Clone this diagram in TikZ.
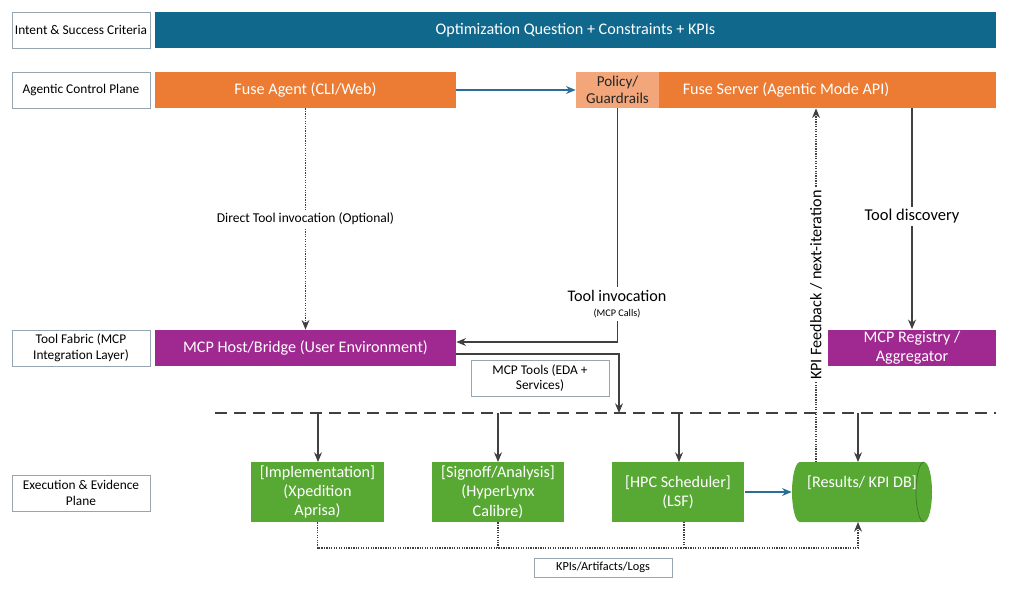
\documentclass[tikz,border=0pt]{standalone}
\usepackage{fontspec}
\setmainfont{Carlito}
\usetikzlibrary{arrows.meta}

\definecolor{intentblue}{RGB}{16,104,140}
\definecolor{ctrlorange}{RGB}{236,124,52}
\definecolor{policyorange}{RGB}{242,166,122}
\definecolor{fabricpurple}{RGB}{160,40,145}
\definecolor{execgreen}{RGB}{88,168,52}
\definecolor{linegray}{RGB}{64,64,64}
\definecolor{flowblue}{RGB}{40,110,150}
\definecolor{lanegray}{RGB}{150,165,175}

\begin{document}
\begin{tikzpicture}[>={Stealth[length=5.5pt,width=4.5pt]}, x=0.02cm, y=-0.02cm,
    lane/.style={draw=lanegray, thin, fill=white, minimum width=2.76cm, minimum height=0.72cm,
                 align=center, inner sep=1pt, font=\fontsize{7.6}{9}\selectfont},
    bar/.style={minimum height=0.72cm, inner sep=1pt, text=white, align=center,
                font=\fontsize{9.2}{11}\selectfont},
    task/.style={fill=execgreen, minimum width=2.66cm, minimum height=1.2cm, inner sep=1pt,
                 text=white, align=center, font=\fontsize{9.2}{11}\selectfont},
    link/.style={linegray, semithick},
    dots/.style={dash pattern=on 0.7pt off 0.7pt},
    lbl/.style={fill=white, inner sep=1.5pt, text=black, align=center}]

    % page frame
    \useasboundingbox (0,0) rectangle (1024,589);

    % lane titles
    \node[lane] (intent) at (81,30) {Intent \& Success Criteria};
    \node[lane] (control) at (81,90) {Agentic Control Plane};
    \node[lane] (fabric) at (81,348) {Tool Fabric (MCP\\Integration Layer)};
    \node[lane] (exec) at (81,493) {Execution \& Evidence\\Plane};

    % intent
    \node[bar, fill=intentblue, minimum width=16.82cm] (question) at (575.5,30)
        {Optimization Question + Constraints + KPIs};

    % control plane
    \node[bar, fill=ctrlorange, minimum width=6.02cm] (agent) at (305.5,90) {Fuse Agent (CLI/Web)};
    \node[bar, fill=ctrlorange, minimum width=8.4cm] (server) at (786,90) {Fuse Server (Agentic Mode API)};
    \node[bar, fill=policyorange, text=black!85, minimum width=1.66cm,
          font=\fontsize{8.6}{9.8}\selectfont] (policy) at (617.5,90) {Policy/\\Guardrails};

    % tool fabric
    \node[bar, fill=fabricpurple, minimum width=6.02cm] (host) at (305.5,348)
        {MCP Host/Bridge (User Environment)};
    \node[bar, fill=fabricpurple, minimum width=3.36cm] (registry) at (912,348)
        {MCP Registry /\\Aggregator};
    \node[lane] (tools) at (540,378) {MCP Tools (EDA +\\Services)};

    % execution plane
    \node[task] (impl) at (317.5,492) {[Implementation]\\(Xpedition\\Aprisa)};
    \node[task] (signoff) at (498,492) {[Signoff/Analysis]\\(HyperLynx\\Calibre)};
    \node[task] (hpc) at (678,492) {[HPC Scheduler]\\(LSF)};

    % results db drawn as a lying cylinder
    \fill[execgreen] (800,462) -- (924,462) arc[start angle=90, end angle=-90, x radius=0.16cm, y radius=0.6cm]
        -- (800,522) arc[start angle=270, end angle=90, x radius=0.16cm, y radius=0.6cm] -- cycle;
    \draw[execgreen!70!black, thin] (924,462) arc[start angle=90, end angle=270, x radius=0.16cm, y radius=0.6cm];
    \node[minimum width=2.8cm, minimum height=1.2cm, inner sep=0pt] (results) at (862,492) {};
    \node[text=white, font=\fontsize{9.2}{11}\selectfont] (resultsname) at (862,483) {[Results/ KPI DB]};

    \node[lane, minimum height=0.38cm, font=\fontsize{7}{8}\selectfont] (logs) at (603,567.5) {KPIs/Artifacts/Logs};

    % helper points
    \coordinate (busL) at (215,413);
    \coordinate (busR) at (996,413);
    \coordinate (busTools) at (619,413);
    \coordinate (fb) at (816,462);
    \coordinate (logR) at (858,548);

    % control flow
    \draw[->, flowblue, semithick] (agent) -- (policy);
    \draw[link, ->, dots] (agent) -- (host)
        node[lbl, midway, font=\fontsize{7.7}{9}\selectfont] {Direct Tool invocation (Optional)};
    \draw[link, ->] (policy.south) |- ([yshift=0.12cm]host.east);
    \node[lbl, font=\fontsize{9.2}{10}\selectfont] (invlbl) at (617,304)
        {Tool invocation\\[-1pt]{\fontsize{5.8}{6.5}\selectfont (MCP Calls)}};
    \draw[link, ->] (server.south -| registry) -- (registry)
        node[lbl, pos=0.49, font=\fontsize{9.4}{10}\selectfont] {Tool discovery};
    \draw[link, ->, dots] (fb) -- (fb |- server.south)
        node[lbl, pos=0.50, rotate=90, font=\fontsize{9.2}{10}\selectfont] {KPI Feedback / next-iteration};
    \draw[link, ->] ([yshift=-0.12cm]host.east) -| (busTools);

    % dispatch bus
    \draw[linegray, thick, dash pattern=on 0.24cm off 0.14cm] (busL) -- (busR);
    \foreach \t/\x in {impl/318, signoff/498, hpc/679, results/858}
        \draw[link, ->] (\x,413) -- (\x,462);

    \draw[->, flowblue, semithick] (hpc) -- (results);

    % evidence back to db
    \draw[link, ->, dots] (impl.south) |- (logR) -- (858,522);
    \draw[link, dots] (signoff.south) -- (signoff.south |- logR);
    \draw[link, dots] (684,522) -- (684,548);
\end{tikzpicture}
\end{document}
